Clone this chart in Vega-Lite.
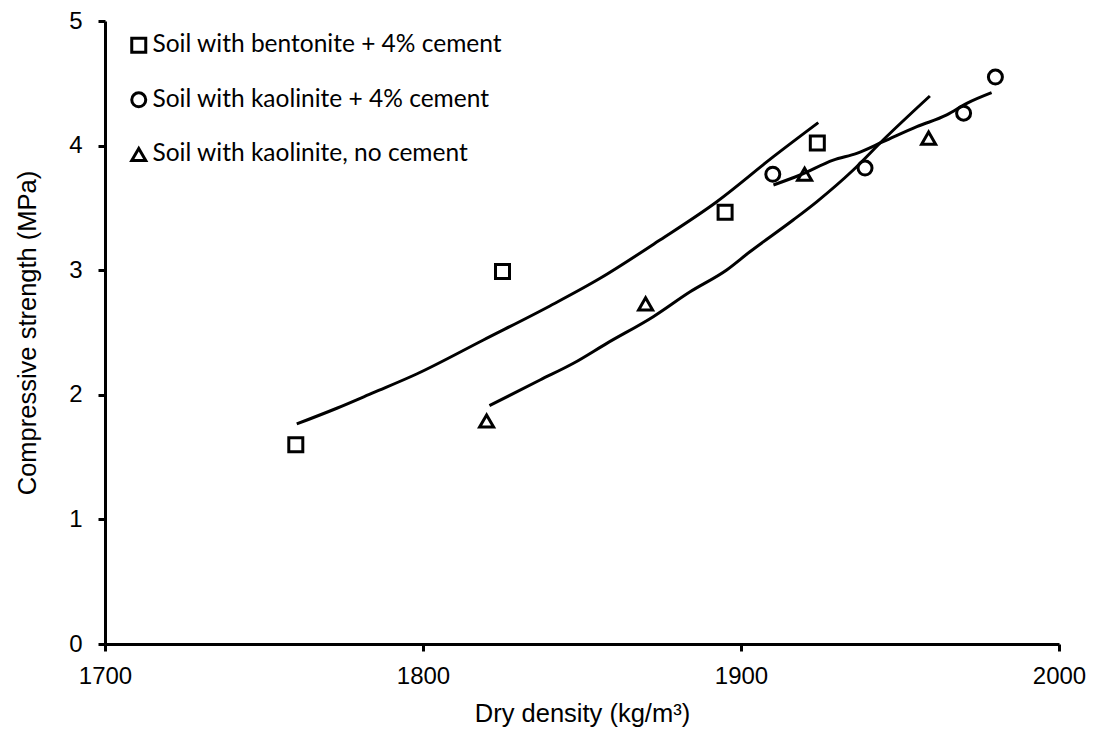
{
  "$schema": "https://vega.github.io/schema/vega-lite/v6.json",
  "width": 954,
  "height": 623,
  "autosize": {"type": "none"},
  "padding": {"left": 105, "top": 21, "right": 42, "bottom": 96},
  "background": "white",
  "config": {
    "view": {"stroke": null},
    "axis": {
      "grid": false,
      "domainColor": "black",
      "domainWidth": 3,
      "tickColor": "black",
      "tickWidth": 3,
      "tickSize": 7,
      "labelColor": "black",
      "labelFont": "Liberation Sans",
      "labelFontSize": 24,
      "titleFont": "Liberation Sans",
      "titleFontSize": 25.5,
      "titleFontWeight": "normal",
      "titleColor": "black"
    }
  },
  "datasets": {
    "points": [
      {"series": "Soil with bentonite + 4% cement", "density": 1760, "strength": 1.60},
      {"series": "Soil with bentonite + 4% cement", "density": 1825, "strength": 2.99},
      {"series": "Soil with bentonite + 4% cement", "density": 1895, "strength": 3.465},
      {"series": "Soil with bentonite + 4% cement", "density": 1924, "strength": 4.02},
      {"series": "Soil with kaolinite + 4% cement", "density": 1910, "strength": 3.77},
      {"series": "Soil with kaolinite + 4% cement", "density": 1939, "strength": 3.82},
      {"series": "Soil with kaolinite + 4% cement", "density": 1970, "strength": 4.26},
      {"series": "Soil with kaolinite + 4% cement", "density": 1980, "strength": 4.55},
      {"series": "Soil with kaolinite, no cement", "density": 1820, "strength": 1.79},
      {"series": "Soil with kaolinite, no cement", "density": 1870, "strength": 2.73},
      {"series": "Soil with kaolinite, no cement", "density": 1920, "strength": 3.77},
      {"series": "Soil with kaolinite, no cement", "density": 1959, "strength": 4.06}
    ],
    "trend": [
      {"series": "bentonite", "density": 1760.3, "strength": 1.766},
      {"series": "bentonite", "density": 1772.9, "strength": 1.892},
      {"series": "bentonite", "density": 1784.4, "strength": 2.017},
      {"series": "bentonite", "density": 1798.0, "strength": 2.167},
      {"series": "bentonite", "density": 1819.0, "strength": 2.44},
      {"series": "bentonite", "density": 1839.9, "strength": 2.713},
      {"series": "bentonite", "density": 1855.7, "strength": 2.935},
      {"series": "bentonite", "density": 1874.5, "strength": 3.242},
      {"series": "bentonite", "density": 1892.4, "strength": 3.55},
      {"series": "bentonite", "density": 1910.2, "strength": 3.911},
      {"series": "bentonite", "density": 1924.3, "strength": 4.184},
      {"series": "kaolinite cement", "density": 1910.2, "strength": 3.684},
      {"series": "kaolinite cement", "density": 1918.6, "strength": 3.764},
      {"series": "kaolinite cement", "density": 1929.0, "strength": 3.884},
      {"series": "kaolinite cement", "density": 1936.4, "strength": 3.938},
      {"series": "kaolinite cement", "density": 1944.7, "strength": 4.031},
      {"series": "kaolinite cement", "density": 1955.3, "strength": 4.152},
      {"series": "kaolinite cement", "density": 1964.7, "strength": 4.246},
      {"series": "kaolinite cement", "density": 1971.0, "strength": 4.339},
      {"series": "kaolinite cement", "density": 1978.8, "strength": 4.425},
      {"series": "kaolinite no cement", "density": 1820.9, "strength": 1.913},
      {"series": "kaolinite no cement", "density": 1836.8, "strength": 2.119},
      {"series": "kaolinite no cement", "density": 1847.3, "strength": 2.253},
      {"series": "kaolinite no cement", "density": 1857.8, "strength": 2.413},
      {"series": "kaolinite no cement", "density": 1872.4, "strength": 2.627},
      {"series": "kaolinite no cement", "density": 1884.0, "strength": 2.827},
      {"series": "kaolinite no cement", "density": 1895.5, "strength": 3.002},
      {"series": "kaolinite no cement", "density": 1902.8, "strength": 3.148},
      {"series": "kaolinite no cement", "density": 1916.4, "strength": 3.403},
      {"series": "kaolinite no cement", "density": 1923.8, "strength": 3.549},
      {"series": "kaolinite no cement", "density": 1935.3, "strength": 3.804},
      {"series": "kaolinite no cement", "density": 1944.7, "strength": 4.045},
      {"series": "kaolinite no cement", "density": 1959.4, "strength": 4.398}
    ]
  },
  "encoding": {
    "x": {
      "field": "density",
      "type": "quantitative",
      "scale": {"domain": [1700, 2000], "nice": false, "zero": false},
      "axis": {
        "values": [1700, 1800, 1900, 2000],
        "format": "d",
        "title": "Dry density (kg/m³)",
        "labelPadding": 13,
        "titlePadding": 13,
        "labelFlush": false
      }
    },
    "y": {
      "field": "strength",
      "type": "quantitative",
      "scale": {"domain": [0, 5], "nice": false},
      "axis": {
        "values": [0, 1, 2, 3, 4, 5],
        "format": "d",
        "title": "Compressive strength (MPa)",
        "labelPadding": 16,
        "titlePadding": 28
      }
    }
  },
  "layer": [
    {
      "data": {"name": "trend"},
      "mark": {"type": "line", "color": "black", "strokeWidth": 3, "interpolate": "monotone"},
      "encoding": {
        "detail": {"field": "series", "type": "nominal"}
      }
    },
    {
      "data": {"name": "points"},
      "mark": {"type": "point", "filled": false, "color": "black", "strokeWidth": 3, "size": 196, "opacity": 1},
      "encoding": {
        "shape": {
          "field": "series",
          "type": "nominal",
          "scale": {
            "domain": ["Soil with bentonite + 4% cement", "Soil with kaolinite + 4% cement", "Soil with kaolinite, no cement"],
            "range": ["square", "circle", "triangle-up"]
          },
          "legend": {
            "orient": "none",
            "legendX": 21.5,
            "legendY": 12,
            "title": null,
            "padding": 0,
            "labelFont": "Lato",
            "labelFontSize": 24.5,
            "labelColor": "black",
            "labelOffset": 1.5,
            "labelLimit": 600,
            "rowPadding": 27.6,
            "symbolSize": 196,
            "symbolStrokeWidth": 3,
            "symbolStrokeColor": "black",
            "symbolFillColor": "transparent",
            "symbolOpacity": 1
          }
        }
      }
    }
  ]
}
